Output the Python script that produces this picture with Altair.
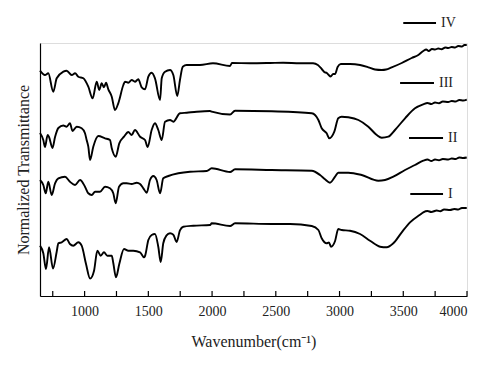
import altair as alt
import pandas as pd

# Wavenumber (cm-1) and normalized transmittance (arbitrary units, offset per curve)
wn_IV = [650, 689, 715, 754, 781, 833, 859, 899, 925, 951, 990, 1029, 1063, 1095, 1115, 1134, 1152, 1168, 1186, 1213,
         1238, 1264, 1304, 1317, 1343, 1369, 1395, 1421, 1448, 1474, 1500, 1526, 1552, 1592, 1605, 1631, 1670, 1696,
         1727, 1748, 1770, 1801, 1905, 2007, 2141, 2156, 2298, 2455, 2557, 2690, 2792, 2830, 2860, 2880, 2900, 2915,
         2930, 2950, 2965, 2985, 3010, 3082, 3161, 3226, 3278, 3331, 3365, 3409, 3488, 3566, 3618, 3657, 3680, 3700,
         3725, 3749, 3775, 3800, 3830, 3853, 3880, 3905, 3932, 3960, 3980, 3998]
t_IV = [225.3, 221, 222.7, 204.3, 217.7, 224.3, 225.3, 221, 222.7, 219.3, 217.7, 209.3, 197.7, 214.3, 206, 212.7, 208.7,
        213.3, 206.7, 199.3, 186, 192.7, 211, 214.3, 213.3, 216, 214.3, 216.7, 208.7, 206.7, 219.3, 223.3, 217.7, 196,
        217.7, 224.3, 226, 221, 200, 216, 229.3, 231, 231, 232.7, 230, 233, 232.7, 233, 233.3, 232.7, 232.7, 231, 227,
        224, 223, 221, 219.5, 222, 222, 229, 232, 232, 231, 228.7, 226.5, 226, 226.5, 228.7, 233, 238, 241, 245, 246.5,
        245, 247, 246.5, 247.5, 246.8, 248.5, 248, 249, 248.5, 250, 249.5, 251, 251]

wn_III = [650, 676, 689, 710, 721, 748, 768, 794, 833, 859, 885, 905, 938, 977, 1003, 1016, 1029, 1043, 1068, 1107,
          1160, 1199, 1213, 1244, 1272, 1309, 1343, 1369, 1395, 1435, 1474, 1495, 1526, 1552, 1578, 1605, 1631, 1670,
          1696, 1748, 1801, 1879, 1984, 1997, 2141, 2180, 2468, 2782, 2834, 2860, 2899, 2920, 2959, 2990, 3017, 3069,
          3148, 3226, 3292, 3331, 3383, 3435, 3514, 3592, 3657, 3690, 3720, 3749, 3780, 3810, 3853, 3880, 3910, 3940,
          3970, 3998]
t_III = [163, 156, 149, 161, 159, 148, 159, 168, 170.5, 169.3, 172.7, 165, 169.3, 167.7, 162.7, 156, 149.3, 136, 149.3,
         160, 157.7, 156, 147.7, 139.3, 152.7, 159.3, 164, 161, 166, 159.3, 156, 149, 166, 172.7, 166, 156, 174.3, 176,
         174.3, 182.7, 183.3, 184.3, 185, 184.3, 181.5, 185.3, 184.7, 182.7, 176, 167.7, 162.7, 157.7, 164.3, 177.7, 179.3,
         178.7, 176, 169.3, 161, 158.3, 159.3, 166, 177.7, 187.7, 191.7, 193, 192, 193.5, 192.8, 194.5, 194, 195, 194.5,
         196, 195.5, 196.5]

wn_II = [650, 676, 695, 715, 742, 768, 794, 846, 885, 925, 964, 1003, 1029, 1056, 1082, 1121, 1160, 1199, 1225, 1244,
         1270, 1304, 1330, 1369, 1409, 1435, 1461, 1487, 1513, 1539, 1565, 1592, 1617, 1657, 1735, 1827, 1958, 1997,
         2141, 2180, 2468, 2782, 2847, 2886, 2925, 2965, 2990, 3069, 3174, 3304, 3357, 3422, 3514, 3592, 3657, 3690,
         3720, 3749, 3780, 3810, 3853, 3880, 3910, 3940, 3970, 3998]
t_II = [116, 111, 102.7, 114.3, 101, 112.7, 117.7, 119.3, 114.3, 111, 116, 109.3, 102.7, 101, 104.3, 104.3, 109.3, 107.7,
        102.7, 92.7, 109.3, 112.7, 112.7, 112, 113.3, 112, 107.7, 103.3, 116, 120, 116, 102.7, 117.7, 120, 122.7, 124.3,
        125, 127.7, 124, 126.7, 126, 125.3, 121, 116.7, 113.3, 119.3, 123.3, 123.3, 121, 115.3, 116, 119.3, 126, 131,
        135.3, 136.5, 135, 136.5, 135.8, 137, 136.5, 137.5, 137, 138.5, 138, 138.5]

wn_I = [650, 676, 697, 721, 752, 781, 794, 820, 859, 885, 911, 951, 977, 1011, 1043, 1074, 1100, 1126, 1152, 1178, 1213,
        1225, 1246, 1272, 1309, 1343, 1382, 1435, 1466, 1474, 1500, 1526, 1552, 1578, 1597, 1617, 1641, 1670, 1696,
        1722, 1748, 1774, 1853, 1984, 1997, 2141, 2180, 2468, 2612, 2782, 2834, 2860, 2899, 2917, 2933, 2965, 2990,
        3017, 3082, 3161, 3239, 3318, 3370, 3422, 3488, 3553, 3631, 3657, 3690, 3720, 3762, 3790, 3820, 3867, 3900,
        3930, 3960, 3998]
t_I = [50.3, 42.7, 27, 48.7, 27.5, 44.3, 52.7, 53.7, 57, 52, 50.3, 53.7, 50.3, 32, 17.5, 25.3, 45.3, 40.3, 43.7, 40.3,
       40.3, 33, 18.7, 32, 47, 45.3, 45.3, 43.7, 38.7, 40, 56, 61, 62, 49.3, 34, 52.7, 60.3, 62.7, 61.3, 54, 65.7, 69.3,
       70.3, 71, 72.7, 70, 72.7, 72, 72, 70, 66, 57.7, 52.7, 53.5, 49.3, 55, 67, 66, 65.3, 62, 55.3, 49.3, 48.7, 52.7,
       63.7, 73.7, 81.3, 83.7, 85, 84, 85.5, 84.8, 86.5, 86, 87, 86.5, 88, 88]

series_names = ["I", "II", "III", "IV"]
legend_x_start = [3555, 3545, 3475, 3500]
legend_x_end = [3812, 3812, 3741, 3757]
legend_y = [102, 158, 213, 273]

x_ticks_major = [1000, 1500, 2000, 2500, 3000, 3500, 4000]
x_ticks_all = [750, 1000, 1250, 1500, 1750, 2000, 2250, 2500, 2750, 3000, 3250, 3500, 3750, 4000]

rows = []
for name, wn, t in [("I", wn_I, t_I), ("II", wn_II, t_II), ("III", wn_III, t_III), ("IV", wn_IV, t_IV)]:
    for i, (a, b) in enumerate(zip(wn, t)):
        rows.append({"series": name, "wn": a, "t": b, "order": i})
df = pd.DataFrame(rows)

leg = pd.DataFrame({"series": series_names, "x1": legend_x_start, "x2": legend_x_end, "y": legend_y})
ticks = pd.DataFrame({"tick": x_ticks_all, "base": [0] * len(x_ticks_all), "top": [5] * len(x_ticks_all)})

FONT = "Liberation Serif"
xscale = alt.Scale(domain=[650, 4000], nice=False, zero=False)
yscale = alt.Scale(domain=[0, 253], nice=False, zero=False)

lines = alt.Chart(df).mark_line(color="black", strokeWidth=1.9, interpolate="monotone").encode(
    x=alt.X("wn:Q", scale=xscale,
            axis=alt.Axis(values=x_ticks_major, ticks=False, grid=False, labelFont=FONT, labelFontSize=14,
                          labelColor="#222", labelPadding=8, domainColor="black", domainWidth=1.2,
                          title="Wavenumber(cm⁻¹)", titleFont=FONT, titleFontSize=16, titleFontWeight="normal",
                          titleColor="#222", titlePadding=15, format="d")),
    y=alt.Y("t:Q", scale=yscale,
            axis=alt.Axis(labels=False, ticks=False, grid=False, domainColor="black", domainWidth=1.2,
                          title="Normalized Transmittance", titleFont=FONT, titleFontSize=16,
                          titleFontWeight="normal", titleColor="#222", titlePadding=9)),
    detail="series:N",
    order="order:Q",
)

tick_marks = alt.Chart(ticks).mark_rule(color="black", strokeWidth=1.2).encode(
    x=alt.X("tick:Q", scale=xscale),
    y=alt.Y("base:Q", scale=yscale),
    y2="top:Q",
)

leg_lines = alt.Chart(leg).mark_rule(color="black", strokeWidth=1.8).encode(
    x=alt.X("x1:Q", scale=xscale), x2="x2:Q", y=alt.Y("y:Q", scale=yscale),
)
leg_text = alt.Chart(leg).mark_text(align="left", baseline="middle", dx=5, font=FONT, fontSize=14,
                                    color="#222").encode(
    x=alt.X("x2:Q", scale=xscale), y=alt.Y("y:Q", scale=yscale), text="series:N",
)

chart = alt.layer(lines, tick_marks, leg_lines, leg_text).properties(
    width=427, height=253,
    autosize=alt.AutoSizeParams(type="none"),
    padding={"left": 32, "top": 35, "right": 25, "bottom": 60},
).configure_view(stroke=None).configure(background="white")

chart.save("out.html", embed_options={"renderer": "svg", "actions": False})
